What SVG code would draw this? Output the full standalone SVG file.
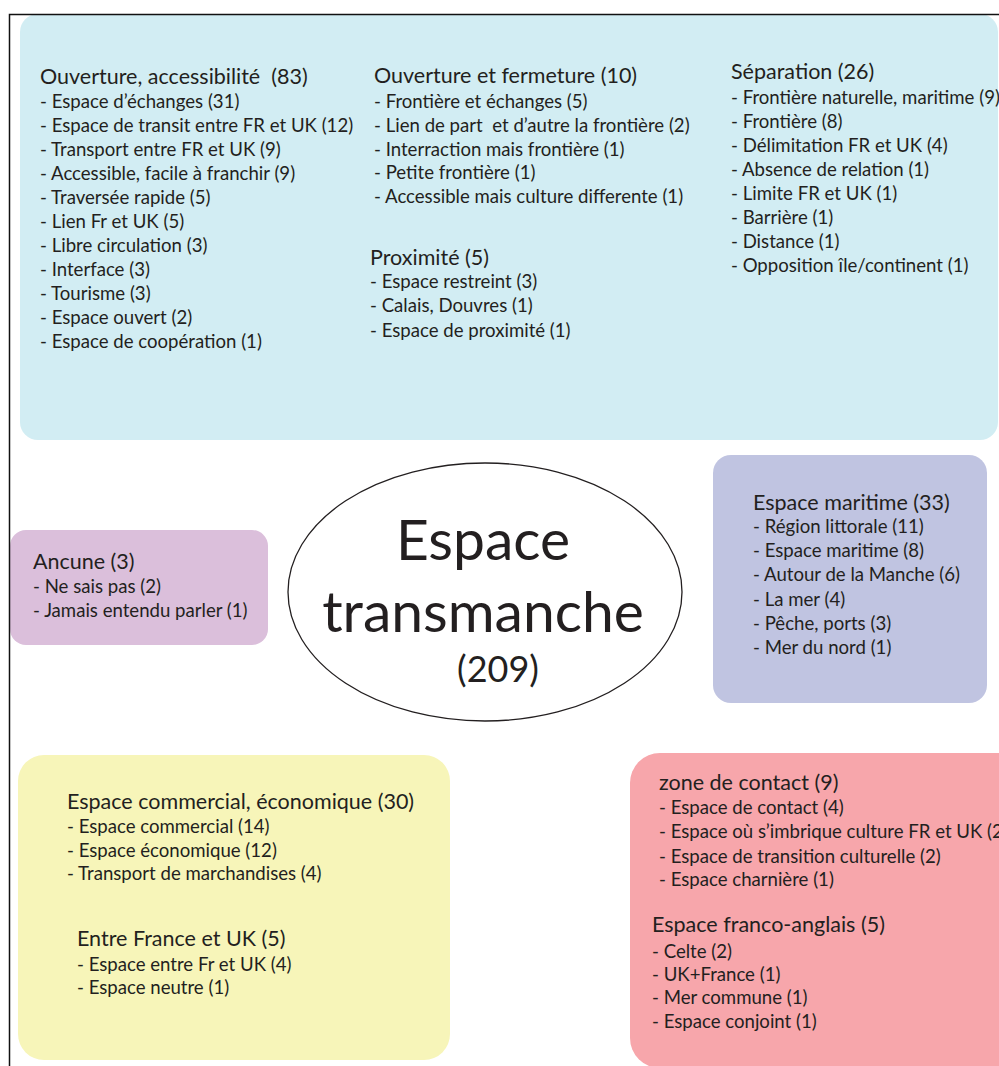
<svg xmlns="http://www.w3.org/2000/svg" width="999" height="1066" viewBox="0 0 999 1066">
<style>
text{font-family:Lato,"Liberation Sans",sans-serif;fill:#231f20;white-space:pre}
.t{font-size:21.5px}
.i{font-size:18.6px}
.big{font-size:57px}
.num{font-size:36px}
.frame{stroke:#111;stroke-width:1.5;fill:none}
</style>
<rect width="999" height="1066" fill="#fff"/>
<g id="panel-top">
<rect x="20" y="14" width="978" height="426" rx="18" fill="#d2edf3"/>
<g id="ouverture-accessibilite">
<text class="t" x="40" y="84">Ouverture, accessibilité  (83)</text>
<text class="i" x="40" y="108">- Espace d’échanges (31)</text>
<text class="i" x="40" y="132">- Espace de transit entre FR et UK (12)</text>
<text class="i" x="40" y="156">- Transport entre FR et UK (9)</text>
<text class="i" x="40" y="180">- Accessible, facile à franchir (9)</text>
<text class="i" x="40" y="204">- Traversée rapide (5)</text>
<text class="i" x="40" y="228">- Lien Fr et UK (5)</text>
<text class="i" x="40" y="252">- Libre circulation (3)</text>
<text class="i" x="40" y="276">- Interface (3)</text>
<text class="i" x="40" y="300">- Tourisme (3)</text>
<text class="i" x="40" y="324">- Espace ouvert (2)</text>
<text class="i" x="40" y="348">- Espace de coopération (1)</text>
</g>
<g id="ouverture-fermeture">
<text class="t" x="374" y="83">Ouverture et fermeture (10)</text>
<text class="i" x="374" y="108">- Frontière et échanges (5)</text>
<text class="i" x="374" y="132">- Lien de part  et d’autre la frontière (2)</text>
<text class="i" x="374" y="156">- Interraction mais frontière (1)</text>
<text class="i" x="374" y="179">- Petite frontière (1)</text>
<text class="i" x="374" y="203">- Accessible mais culture differente (1)</text>
</g>
<g id="proximite">
<text class="t" x="370" y="265">Proximité (5)</text>
<text class="i" x="370" y="288">- Espace restreint (3)</text>
<text class="i" x="370" y="312">- Calais, Douvres (1)</text>
<text class="i" x="370" y="337">- Espace de proximité (1)</text>
</g>
<g id="separation">
<text class="t" x="731" y="79">Séparation (26)</text>
<text class="i" x="731" y="104">- Frontière naturelle, maritime (9)</text>
<text class="i" x="731" y="128">- Frontière (8)</text>
<text class="i" x="731" y="152">- Délimitation FR et UK (4)</text>
<text class="i" x="731" y="176">- Absence de relation (1)</text>
<text class="i" x="731" y="200">- Limite FR et UK (1)</text>
<text class="i" x="731" y="224">- Barrière (1)</text>
<text class="i" x="731" y="248">- Distance (1)</text>
<text class="i" x="731" y="272">- Opposition île/continent (1)</text>
</g>
</g>
<g id="ancune">
<rect x="10" y="530" width="258" height="115" rx="16" fill="#dbbfdb"/>
<text class="t" x="33" y="569">Ancune (3)</text>
<text class="i" x="33" y="593">- Ne sais pas (2)</text>
<text class="i" x="33" y="617">- Jamais entendu parler (1)</text>
</g>
<g id="centre">
<ellipse cx="485" cy="592" rx="197" ry="129" fill="#fff" stroke="#231f20" stroke-width="1.3"/>
<text class="big" x="483" y="560" text-anchor="middle">Espace</text>
<text class="big" x="483" y="632" text-anchor="middle">transmanche</text>
<text class="num" x="498" y="682" text-anchor="middle">(209)</text>
</g>
<g id="espace-maritime">
<rect x="713" y="455" width="274" height="248" rx="18" fill="#c0c4e1"/>
<text class="t" x="753" y="510">Espace maritime (33)</text>
<text class="i" x="753" y="533">- Région littorale (11)</text>
<text class="i" x="753" y="557">- Espace maritime (8)</text>
<text class="i" x="753" y="581">- Autour de la Manche (6)</text>
<text class="i" x="753" y="606">- La mer (4)</text>
<text class="i" x="753" y="630">- Pêche, ports (3)</text>
<text class="i" x="753" y="654">- Mer du nord (1)</text>
</g>
<g id="economique">
<rect x="18" y="755" width="432" height="305" rx="26" fill="#f7f5b9"/>
<text class="t" x="67" y="809">Espace commercial, économique (30)</text>
<text class="i" x="67" y="833">- Espace commercial (14)</text>
<text class="i" x="67" y="857">- Espace économique (12)</text>
<text class="i" x="67" y="880">- Transport de marchandises (4)</text>
<text class="t" x="77" y="946">Entre France et UK (5)</text>
<text class="i" x="77" y="971">- Espace entre Fr et UK (4)</text>
<text class="i" x="77" y="994">- Espace neutre (1)</text>
</g>
<g id="contact">
<rect x="630" y="753" width="400" height="315" rx="30" fill="#f7a6ab"/>
<text class="t" x="659" y="790">zone de contact (9)</text>
<text class="i" x="659" y="814">- Espace de contact (4)</text>
<text class="i" x="659" y="838">- Espace où s’imbrique culture FR et UK (2)</text>
<text class="i" x="659" y="863">- Espace de transition culturelle (2)</text>
<text class="i" x="659" y="886">- Espace charnière (1)</text>
<text class="t" x="652" y="932">Espace franco-anglais (5)</text>
<text class="i" x="652" y="958">- Celte (2)</text>
<text class="i" x="652" y="981">- UK+France (1)</text>
<text class="i" x="652" y="1004">- Mer commune (1)</text>
<text class="i" x="652" y="1028">- Espace conjoint (1)</text>
</g>
<g id="connectors"/>
<g id="frame">
<path class="frame" d="M9.5 1066 V14.5 H999"/>
</g>
</svg>
